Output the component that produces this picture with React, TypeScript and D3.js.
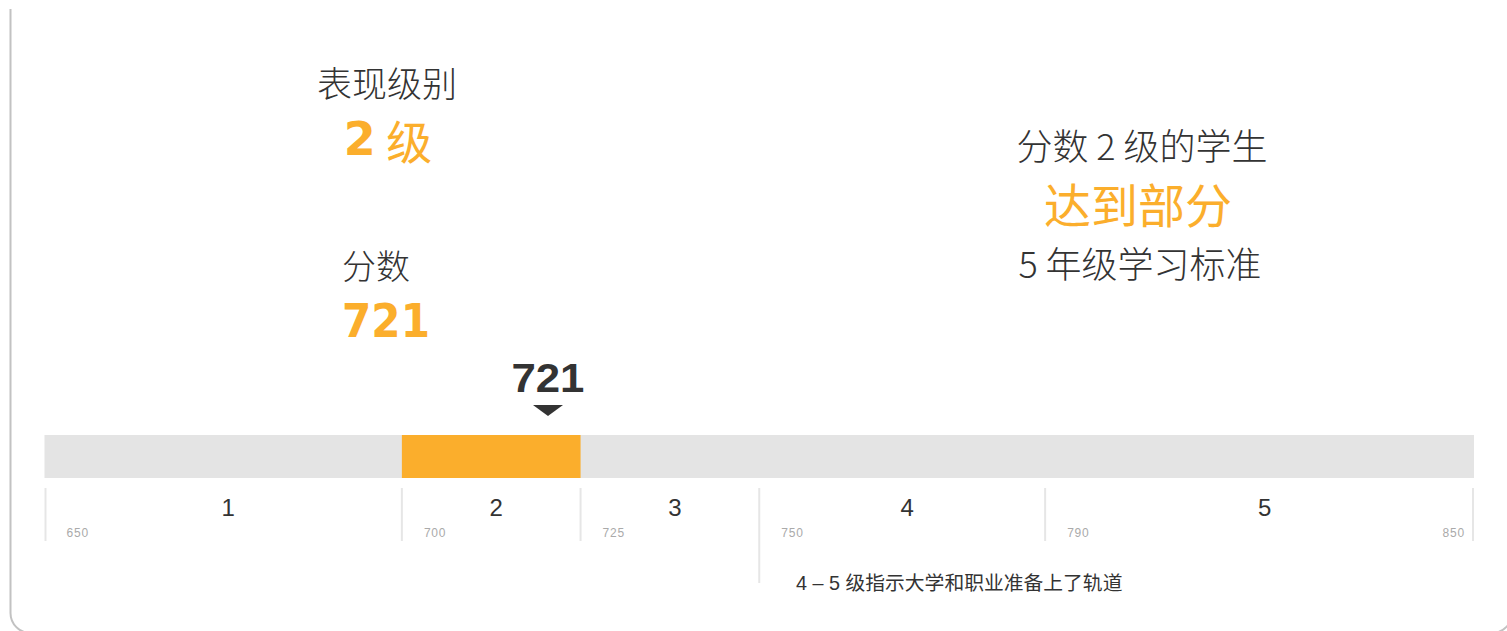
import React from "react";
import * as d3 from "d3";

const levels = ["1", "2", "3", "4", "5"];
const cutScores = [650, 700, 725, 750, 790, 850];
const tickLabels = ["650", "700", "725", "750", "790", "850"];
const score = 721;
const scoreLevel = 2;
const levelTitle = "表现级别";
const levelText = "级";
const scoreTitle = "分数";
const descLine1 = "分数 2 级的学生";
const descLine2 = "达到部分";
const descLine3 = "5 年级学习标准";
const caption = "4 – 5 级指示大学和职业准备上了轨道";

const W = 1507;
const H = 631;
const ORANGE = "#FBAE2C";
const DARK = "#333333";
const CJK = "'Noto Sans CJK SC', 'Liberation Sans', sans-serif";
const LAT = "'Liberation Sans', Arial, 'Noto Sans CJK SC', sans-serif";

export default function App() {
  const x = d3.scaleLinear().domain([cutScores[0], cutScores[cutScores.length - 1]]).range([44.5, 1474]);
  const barTop = 435;
  const barH = 43;
  const lo = cutScores[scoreLevel - 1];
  const hi = cutScores[scoreLevel];
  const mx = x(score) - 4;
  const tri = d3.line()([
    [mx - 15, 405],
    [mx + 15, 405],
    [mx, 416],
  ]);

  return (
    <svg
      width={W}
      height={H}
      style={{ position: "absolute", left: 0, top: 0, background: "#fff" }}
    >
      <path
        d="M10.5,9 V613 A20,20 0 0 0 30.5,633 H1492 A20,20 0 0 0 1512,613"
        fill="none"
        stroke="#c2c2c2"
        strokeWidth={2}
      />

      {/* left block */}
      <text x={387} y={81} textAnchor="middle" dominantBaseline="central" fontFamily={CJK} fontSize={35} fill={DARK} fontWeight={300}>
        {levelTitle}
      </text>
      <text x={388} y={139} textAnchor="middle" dominantBaseline="central" fontFamily={CJK} fontSize={46} fill={ORANGE}>
        <tspan fontFamily="'DejaVu Sans', Verdana, sans-serif" fontWeight="bold" fontSize={46}>{String(scoreLevel)}</tspan>
        <tspan> {levelText}</tspan>
      </text>
      <text x={376} y={264} textAnchor="middle" dominantBaseline="central" fontFamily={CJK} fontSize={34} fill={DARK} fontWeight={300}>
        {scoreTitle}
      </text>
      <text x={342} y={337} textLength={88} lengthAdjust="spacingAndGlyphs" fontFamily="'DejaVu Sans', Verdana, sans-serif" fontWeight="bold" fontSize={46} fill={ORANGE}>
        {String(score)}
      </text>

      {/* right block */}
      <text x={1142} y={144} textAnchor="middle" dominantBaseline="central" fontFamily={CJK} fontSize={36} fill={DARK} fontWeight={300}>
        {descLine1}
      </text>
      <text x={1138} y={202} textAnchor="middle" dominantBaseline="central" fontFamily={CJK} fontSize={47} fill={ORANGE}>
        {descLine2}
      </text>
      <text x={1140} y={262} textAnchor="middle" dominantBaseline="central" fontFamily={CJK} fontSize={36} fill={DARK} fontWeight={300}>
        {descLine3}
      </text>

      {/* marker */}
      <text x={mx} y={392} textAnchor="middle" textLength={73} lengthAdjust="spacingAndGlyphs" fontFamily={LAT} fontWeight="bold" fontSize={41} fill={DARK}>
        {String(score)}
      </text>
      <path d={tri || ""} fill={DARK} />

      {/* bar */}
      <rect x={x(cutScores[0])} y={barTop} width={x(cutScores[cutScores.length - 1]) - x(cutScores[0])} height={barH} fill="#E4E4E4" />
      <rect x={x(lo)} y={barTop} width={x(hi) - x(lo)} height={barH} fill={ORANGE} />

      {/* ticks */}
      {cutScores.map((c, i) => (
        <line
          key={"t" + i}
          x1={x(c) + (i === 0 ? 1 : i === cutScores.length - 1 ? -1 : 0)}
          x2={x(c) + (i === 0 ? 1 : i === cutScores.length - 1 ? -1 : 0)}
          y1={488}
          y2={c === 750 ? 583 : 541}
          stroke="#E6E6E6"
          strokeWidth={2}
        />
      ))}
      {levels.map((l, i) => (
        <text
          key={"l" + i}
          x={(x(cutScores[i]) + x(cutScores[i + 1])) / 2 + 5}
          y={516}
          textAnchor="middle"
          fontFamily={LAT}
          fontSize={24}
          fill={DARK}
        >
          {l}
        </text>
      ))}
      {tickLabels.map((t, i) => {
        const last = i === tickLabels.length - 1;
        return (
          <text
            key={"k" + i}
            x={last ? x(cutScores[i]) - 9 : x(cutScores[i]) + 22}
            y={537}
            textAnchor={last ? "end" : "start"}
            fontFamily={LAT}
            fontSize={12}
            letterSpacing={0.8}
            fill="#AAAAAA"
          >
            {t}
          </text>
        );
      })}

      <text x={796} y={590} fontFamily={LAT} fontSize={19.8} fill={DARK}>
        {caption}
      </text>
    </svg>
  );
}
